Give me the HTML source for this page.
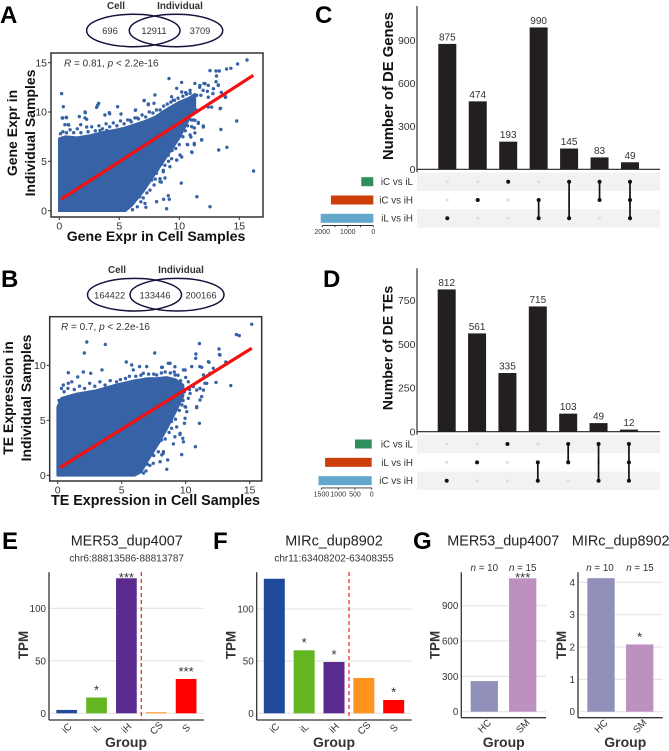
<!DOCTYPE html>
<html lang="en">
<head>
<meta charset="utf-8">
<title>Differential expression figure</title>
<style>
html,body{margin:0;padding:0;background:#fff;}
svg{display:block;font-family:"Liberation Sans",sans-serif;}
text{fill:#333;}
.letter{font-size:24px;font-weight:bold;fill:#000;}
.big{font-weight:bold;fill:#111;}
.title{font-size:14.4px;fill:#222;text-anchor:middle;}
.sub{font-size:10px;fill:#333;text-anchor:middle;}
.venn{fill:none;stroke:#14143c;stroke-width:1.5;}
.vn{font-size:9.3px;text-anchor:middle;fill:#333;}
.vh{font-size:9.8px;font-weight:bold;text-anchor:middle;fill:#333;}
</style>
</head>
<body>
<svg id="figure" width="669" height="751" viewBox="0 0 669 751" xmlns="http://www.w3.org/2000/svg">
<rect width="669" height="751" fill="#fff"/>

<text class="letter" x="0" y="23">A</text>
<text class="letter" x="315" y="23">C</text>
<text class="letter" x="1" y="287">B</text>
<text class="letter" x="323" y="287">D</text>
<text class="letter" x="2" y="549">E</text>
<text class="letter" x="213" y="549">F</text>
<text class="letter" x="413" y="549">G</text>

<g>
<ellipse class="venn" cx="133.3" cy="30.5" rx="46.7" ry="16.2"/>
<ellipse class="venn" cx="176" cy="30.5" rx="46.7" ry="16.2"/>
<text class="vh" x="116" y="9">Cell</text>
<text class="vh" x="180" y="9">Individual</text>
<text class="vn" x="110" y="34">696</text>
<text class="vn" x="154" y="34">12911</text>
<text class="vn" x="200" y="34">3709</text>
</g>

<g>
<ellipse class="venn" cx="134.5" cy="294.7" rx="47" ry="16.3"/>
<ellipse class="venn" cx="177" cy="294.7" rx="47" ry="16.3"/>
<text class="vh" x="117" y="273">Cell</text>
<text class="vh" x="181" y="273">Individual</text>
<text class="vn" x="109.7" y="298.3">164422</text>
<text class="vn" x="155" y="298.3">133446</text>
<text class="vn" x="201" y="298.3">200166</text>
</g>

<g id="panel-a"></g>
<text x="64" y="66.5" font-size="10"><tspan font-style="italic">R</tspan> = 0.81, <tspan font-style="italic">p</tspan> &lt; 2.2e-16</text>
<text class="big" x="156" y="241" font-size="14.1" text-anchor="middle">Gene Expr in Cell Samples</text>
<text class="big" transform="translate(17,133) rotate(-90)" font-size="14" text-anchor="middle">Gene Expr in</text>
<text class="big" transform="translate(35,133) rotate(-90)" font-size="14" text-anchor="middle">Individual Samples</text>

<g id="panel-b"></g>
<text x="61" y="330" font-size="10"><tspan font-style="italic">R</tspan> = 0.7, <tspan font-style="italic">p</tspan> &lt; 2.2e-16</text>
<text class="big" x="155.5" y="505" font-size="14.3" text-anchor="middle">TE Expression in Cell Samples</text>
<text class="big" transform="translate(13,398) rotate(-90)" font-size="14" text-anchor="middle">TE Expression in</text>
<text class="big" transform="translate(31,398) rotate(-90)" font-size="14" text-anchor="middle">Individual Samples</text>

<g id="panel-c"></g>
<text class="big" transform="translate(393,86) rotate(-90)" font-size="14.8" text-anchor="middle">Number of DE Genes</text>

<g id="panel-d"></g>
<text class="big" transform="translate(392.5,348) rotate(-90)" font-size="14.2" text-anchor="middle">Number of DE TEs</text>

<text class="title" x="126.7" y="545.7">MER53_dup4007</text>
<text class="sub" x="126.7" y="561.5">chr6:88813586-88813787</text>
<text class="title" x="334" y="545.7">MIRc_dup8902</text>
<text class="sub" x="334" y="561.5">chr11:63408202-63408355</text>
<text class="title" x="503.3" y="545.7">MER53_dup4007</text>
<text class="title" x="620.7" y="545.7">MIRc_dup8902</text>

<g id="panel-e"></g>
<g id="panel-f"></g>
<g id="panel-g1"></g>
<g id="panel-g2"></g>

<g font-size="9.8" text-anchor="middle" fill="#333">
<text x="484.3" y="571"><tspan font-style="italic">n</tspan> = 10</text>
<text x="522.7" y="571"><tspan font-style="italic">n</tspan> = 15</text>
<text x="600" y="571"><tspan font-style="italic">n</tspan> = 10</text>
<text x="640" y="571"><tspan font-style="italic">n</tspan> = 15</text>
</g>
</svg>

<script>
/* ---------- Panel A data ---------- */
const geneRegressionX = [0.14, 16.17];
const geneRegressionY = [1.15, 13.72];
const geneCloudX = [0, 0.5, 1.5, 2.5, 3.5, 4.8, 5.5, 6, 7, 8, 9, 10, 10.8, 11.3];
const geneCloudHigh = [7.3, 7.5, 7.4, 7.6, 7.9, 8.2, 8.4, 8.6, 9, 9.5, 10.3, 11, 11.4, 11.8];
const geneCloudLow = [0, 0, 0, 0, 0, 0, 0, 0.5, 2, 3.8, 5.6, 7.4, 9.3, 10.5];
const genePoints = [[.19,11.86],[.33,10.54],[.25,9.39],[.58,9.46],[.78,8.68],[1.67,9.53],[2.17,9.93],[2.28,9.26],[3.11,10.47],[3.28,10.88],[3.19,10.68],[4.86,10.54],[3.8,9.7],[4.17,9.93],[6.36,10.2],[7.06,11.15],[7.42,10.81],[7.97,11.72],[7.89,10.88],[9.14,13.38],[10.19,13],[9.36,11.55],[9.5,11.2],[9.78,12.4],[10.9,12.2],[11.3,12.9],[11.7,12.5],[12.05,12.9],[12.56,14.19],[13.06,14.15],[13.33,14.15],[13.1,13.65],[13.06,13.07],[13.25,12.74],[13.94,14.36],[14.3,14.43],[14.86,14.86],[15.64,15.27],[13.83,11.49],[13.44,10.37],[14.78,9.09],[13.47,8.24],[13.97,6.42],[13.28,6.15],[16.19,4.02],[12.56,.41],[11.47,1.42],[10.17,2.8],[8.94,.2],[9.08,1.52],[8.69,1.15],[9.17,1.15],[8.11,.91],[7.14,.74],[7.22,.34],[12,8.58],[11.58,8.85],[11.03,8.51],[11.17,9.19],[10.9,7.67],[10.67,6.72],[11.25,6.82],[11.86,7.16],[11.06,5.91],[10.06,5.64],[9.78,5.13],[9.22,4.46],[8.67,3.95],[8.39,2.94],[7.56,2.09],[6.72,1.42],[6.17,.91],[5.75,.41],[.28,9.39],[.61,9.42],[2.14,10],[2.14,9.4],[4.2,9.83],[5.14,9.8],[5.9,9.16],[6.33,10.17],[7.08,11.18],[7.42,10.74],[6.5,9.4],[.47,8.71],[.75,8.71],[1.78,8.71],[2.28,8.48],[3.39,8.14],[3.95,8.14],[11.72,12.7],[12.14,12.87],[12.42,12.7],[11.98,12.2],[12.34,12.1],[12.84,12.36],[13.25,12.7],[11.45,11.69],[11.8,11.69],[12.42,11.5],[12.8,11.86],[13.8,11.69],[13.86,11.5],[13.5,12],[12.42,10.5],[12.7,10.5],[13.4,10.34],[12,8.48],[11.3,9.16],[11.58,8.96],[11.25,8.38],[10.2,12.03],[10.53,11.97],[11.03,5.95],[10.7,6.69],[11.25,6.69],[11.87,7.19],[10.97,7.47],[11.3,7.88],[8.39,3.24],[8.81,3.31],[8.67,4.09],[8.39,5.27],[9.08,5.61],[9.36,5.27],[9.78,5.13],[10.2,5.44],[8.1,3.8],[8.5,2.9],[11.4,10.2],[.1,7.8],[.3,8],[.6,7.9],[.9,8.2],[1.2,7.9],[1.5,8.3],[1.8,7.9],[2.4,8],[2.7,8.5],[3,8.1],[3.3,8.6],[3.6,8.3],[3.9,8.8],[4.2,8.5],[4.5,8.9],[4.8,8.6],[5.1,9.1],[5.4,8.8],[5.7,9.2],[6,9],[6.3,9.4],[6.6,9.3],[6.9,9.7],[7.2,9.5],[7.5,10],[7.8,9.9],[8.1,10.2],[8.4,10.2],[8.7,10.6],[9,10.8],[9.3,11],[9.6,11.2],[9.9,11.4],[10.3,11.6],[10.6,11.8],[10.9,11.9],[6.4,1.9],[6.8,.9],[6.5,.4],[6.3,1.2],[6.1,.1],[7,1.3],[7.3,1.8],[7.4,2.9],[7.7,3.1],[7.9,2.6],[8,3.2],[8.2,4.2],[8.5,4.7],[8.8,4.6],[9.1,5],[9.4,6.1],[9.7,6.3],[10,6.7],[10.3,7.5],[10.5,8.1],[10.7,8.6],[11,9.2]];
const geneXTicks = [0, 5, 10, 15];
const geneYTicks = [0, 5, 10, 15];

/* ---------- Panel B data ---------- */
const teRegressionX = [0.18, 15.16];
const teRegressionY = [0.7, 11.55];
const teCloudX = [0, 0.3, 1.5, 3, 4.5, 6, 6.5, 7, 7.7, 8.5, 9.2, 9.8];
const teCloudHigh = [6.2, 7, 7.4, 7.7, 8.2, 8.6, 8.7, 8.8, 8.8, 8.9, 8.7, 8.2];
const teCloudLow = [0, 0, 0, 0, 0, 0, 0.3, 1.3, 2.6, 4.2, 5.8, 7.2];
const tePoints = [[15.16,13.73],[13.96,12.79],[14.19,12.7],[11.07,11.97],[2.27,12.12],[3.72,11.9],[2.08,11.12],[7.58,11.12],[12.6,11.48],[10.8,11.03],[10.78,10.64],[12.63,10.97],[5.36,10.3],[5.78,10.03],[6.4,9.88],[6.95,9.88],[8.18,9.82],[8.78,10.18],[.83,9.33],[1.56,8.94],[2,9.39],[2.58,9.27],[3.46,9.58],[11.82,10.27],[13.13,10.3],[13.52,8.15],[12.37,8.45],[11.07,4.73],[10.76,2.6],[9.69,1.88],[8.52,.55],[11.1,9.88],[11.25,9.82],[12.16,9.73],[11.64,8.36],[11.12,7.9],[11.25,7.15],[10.86,6.24],[9.95,6.24],[9.9,4.73],[9.56,3.82],[9.77,3.36],[9.04,2.85],[8.26,2.15],[8.13,1.85],[7.47,1.09],[6.69,.79],[5.9,.33],[10.2,8.5],[10.6,8.06],[10.34,7.45],[10.47,9.88],[9.82,9.58],[9.17,9.12],[11.38,9.12],[11.9,9.27],[7.73,9.12],[6.69,9.27],[5.91,9.58],[4.6,8.5],[3.3,8.5],[2.5,8.36],[.44,8.2],[.83,8.36],[1.1,8.5],[.3,7.9],[7.86,2.14],[8.25,2],[8.59,1.39],[8,1.24],[9.82,3.05],[9.16,3.5],[9.55,3.7],[8.9,4.27],[9.3,4.4],[9.95,5.18],[10.08,5.78],[10.86,6.15],[11.12,6.85],[11.38,7.75],[10.86,7.75],[11.5,8.36],[11.77,10.33],[12.68,10.94],[8.64,10.18],[9.16,9.87],[8.12,9.82],[9.95,9.57],[9.6,8.6],[10,8.9],[9.9,7.6],[9.5,7.4],[10.2,7],[9.8,6.8],[.1,6.8],[.5,7.6],[.8,7.9],[1.3,7.8],[1.7,8.1],[2.1,7.9],[2.9,8.1],[3.7,8.2],[4.1,8.6],[4.9,8.7],[5.3,8.8],[5.6,9],[6.1,9],[6.5,9.1],[7.1,9.2],[7.5,9.2],[8.1,9.3],[8.4,9.4],[8.8,9.3],[9.1,9.4],[9.4,9.1],[6.9,.4],[7.2,.9],[7.5,1.8],[7.9,3],[8.1,3.2],[8.4,3.3],[8.7,3.9],[8.9,4.9],[9.2,5.1],[9.5,5.9],[9.7,6.4],[10,6.2],[10.3,7.8],[6.7,.2],[7,1]];
const teXTicks = [0, 5, 10, 15];
const teYTicks = [0, 5, 10];

/* ---------- Panels C and D data ---------- */
const genesIntersectionCounts = [875, 474, 193, 990, 145, 83, 49];
const genesIntersectionSets = [[2], [1], [0], [1, 2], [0, 2], [0, 1], [0, 1, 2]];
const genesYTicks = [0, 300, 600, 900];
const genesSetNames = ["iC vs iL", "iC vs iH", "iL vs iH"];
const genesSetSizes = [470, 1658, 2059];
const genesSizeTicks = [2000, 1500, 1000, 500, 0];
const genesSizeLabels = ["2000", "", "1000", "", "0"];

const tesIntersectionCounts = [812, 561, 335, 715, 103, 49, 12];
const tesIntersectionSets = [[2], [1], [0], [1, 2], [0, 1], [0, 2], [0, 1, 2]];
const tesYTicks = [0, 250, 500, 750];
const tesSetNames = ["iC vs iL", "iL vs iH", "iC vs iH"];
const tesSetSizes = [499, 1391, 1588];
const tesSizeTicks = [1500, 1000, 500, 0];
const tesSizeLabels = ["1500", "1000", "500", "0"];

/* ---------- Panels E, F, G data ---------- */
const cellGroups = ["iC", "iL", "iH", "CS", "S"];
const merCellValues = [3.2, 15, 128.6, 1, 32.7];
const merCellStars = ["", "*", "***", "", "***"];
const mircCellValues = [129, 60.4, 49.2, 33.9, 12.8];
const mircCellStars = ["", "*", "*", "", "*"];
const cellYTicks = [0, 50, 100];

const cohortGroups = ["HC", "SM"];
const merCohortValues = [260, 1132];
const merCohortStars = ["", "***"];
const merCohortTicks = [0, 300, 600, 900];
const mircCohortValues = [4.13, 2.08];
const mircCohortStars = ["", "*"];
const mircCohortTicks = [0, 1, 2, 3, 4];

/* ---------- helpers ---------- */
const NS = "http://www.w3.org/2000/svg";
function make(parent, tag, attrs, content) {
  const el = document.createElementNS(NS, tag);
  for (const key in attrs) el.setAttribute(key, attrs[key]);
  if (content !== undefined) el.textContent = content;
  parent.appendChild(el);
  return el;
}

const DOT = "#3762a6";

function drawScatter(host, o) {
  const x = o.xScale;
  const y = o.yScale;
  const frame = make(host, "rect", {x: o.left, y: o.top, width: o.right - o.left, height: o.bottom - o.top, fill: "#fff", stroke: "#333", "stroke-width": 1.5});
  
  

  let d = "";
  o.cloudX.forEach((v, i) => { d += (i ? "L" : "M") + x(v).toFixed(1) + " " + y(o.cloudHigh[i]).toFixed(1); });
  for (let i = o.cloudX.length - 1; i >= 0; i--) { d += "L" + x(o.cloudX[i]).toFixed(1) + " " + y(o.cloudLow[i]).toFixed(1); }
  const cloud = make(host, "path", {d: d + "Z", fill: DOT, stroke: DOT, "stroke-width": 2.6, "stroke-linejoin": "round"});
  
  

  o.points.forEach(p => {
    const c = make(host, "circle", {cx: x(p[0]).toFixed(1), cy: y(p[1]).toFixed(1), r: 1.7, fill: DOT});
    
    
  });

  const line = make(host, "line", {x1: x(o.lineX[0]), y1: y(o.lineY[0]), x2: x(o.lineX[1]), y2: y(o.lineY[1]), stroke: "#f40f10", "stroke-width": 3.2});
  
  

  o.xTicks.forEach(t => {
    const m = make(host, "line", {x1: x(t), x2: x(t), y1: o.bottom, y2: o.bottom + 3, stroke: "#333", "stroke-width": 1});
    
    
    const l = make(host, "text", {x: x(t), y: o.bottom + 12.7, "font-size": 10.5, "text-anchor": "middle"}, String(t));
    
    
  });
  o.yTicks.forEach(t => {
    const m = make(host, "line", {x1: o.left - 3, x2: o.left, y1: y(t), y2: y(t), stroke: "#333", "stroke-width": 1});
    
    
    const l = make(host, "text", {x: o.left - 4, y: y(t) + 3.7, "font-size": 10.5, "text-anchor": "end"}, String(t));
    
    
  });
}

const SET_COLORS = ["#2f8f5b", "#cc3f08", "#62a8cc"];

function drawUpset(host, o) {
  const y = o.yScale;
  const colX = i => o.firstColumn + i * o.columnStep;
  const rowY = r => o.firstRow + r * o.rowStep;
  const setX = v => o.setRight - v * o.setScale;

  [0, 2].forEach(r => {
    const band = make(host, "rect", {x: 417, y: rowY(r) - 9.1, width: 243, height: 18.3, fill: "#f3f2f0"});
    
    
  });

  o.counts.forEach((v, i) => {
    const bar = make(host, "rect", {x: colX(i) - 9, y: y(v), width: 18, height: o.base - y(v), fill: "#231f20"});
    
    
    const l = make(host, "text", {x: colX(i), y: y(v) - 3.5, "font-size": 10, "text-anchor": "middle"}, String(v));
    
    
  });

  const yAxis = make(host, "line", {x1: 417, x2: 417, y1: o.axisTop, y2: o.base + 3, stroke: "#333", "stroke-width": 1.2});
  
  
  const xAxis = make(host, "line", {x1: 417, x2: 660, y1: o.base, y2: o.base, stroke: "#222", "stroke-width": 1.2});
  
  

  o.yTicks.forEach(t => {
    const l = make(host, "text", {x: 415.5, y: y(t) + 3.7, "font-size": 10.5, "text-anchor": "end"}, String(t));
    
    
  });

  o.sets.forEach((members, i) => {
    [0, 1, 2].forEach(r => {
      const on = members.indexOf(r) >= 0;
      const dot = make(host, "circle", {cx: colX(i), cy: rowY(r), r: on ? 2 : 1.5, fill: on ? "#111" : "#dcdcdc"});
      
      
    });
    if (members.length > 1) {
      const seg = make(host, "line", {x1: colX(i), x2: colX(i), y1: rowY(Math.min(...members)), y2: rowY(Math.max(...members)), stroke: "#111", "stroke-width": 1.7});
      
      
    }
  });

  o.setNames.forEach((name, r) => {
    const l = make(host, "text", {x: 413, y: rowY(r) + 3.4, "font-size": 9.8, "text-anchor": "end"}, name);
    
    
    const b = make(host, "rect", {x: setX(o.setSizes[r]), y: rowY(r) - 4.5, width: o.setRight - setX(o.setSizes[r]), height: 9, fill: SET_COLORS[r]});
    
    
  });

  const sizeAxisY = rowY(2) + 7.2;
  const sa = make(host, "line", {x1: setX(o.sizeTicks[0]), x2: setX(0), y1: sizeAxisY, y2: sizeAxisY, stroke: "#333", "stroke-width": 0.9});
  
  
  o.sizeTicks.forEach((t, i) => {
    const m = make(host, "line", {x1: setX(t), x2: setX(t), y1: sizeAxisY, y2: sizeAxisY + 1.8, stroke: "#333", "stroke-width": 0.9});
    
    
    if (o.sizeLabels[i]) {
      const l = make(host, "text", {x: setX(t), y: sizeAxisY + 8.6, "font-size": 7, "text-anchor": "middle"}, o.sizeLabels[i]);
      
      
    }
  });
}

const CELL_COLORS = ["#1f4a99", "#63b521", "#5a2a8c", "#ff9320", "#ff0000"];
const COHORT_COLORS = ["#9090ba", "#bd90bf"];

function drawBars(host, o) {
  const y = o.yScale;
  const colX = i => o.firstColumn + i * o.columnStep;

  o.yTicks.forEach(t => {
    const g = make(host, "line", {x1: o.axisX, x2: o.axisRight, y1: y(t), y2: y(t), stroke: "#e6e6e6", "stroke-width": 1.2});
    
    
    const l = make(host, "text", {x: o.axisX - 3, y: y(t) + 3.5, "font-size": 9.8, "text-anchor": "end"}, String(t));
    
    
  });

  o.values.forEach((v, i) => {
    const bar = make(host, "rect", {x: colX(i) - o.barWidth / 2, y: y(v), width: o.barWidth, height: y(0) - y(v), fill: o.colors[i]});
    
    
    if (o.stars[i]) {
      const starY = Math.max(574, y(v) - 11);
      const s = make(host, "text", {x: colX(i), y: starY + 7.8, "font-size": 13, "text-anchor": "middle", fill: "#222"}, o.stars[i]);
      
      
    }
    const l = make(host, "text", {transform: "translate(" + colX(i) + "," + o.labelY + ") rotate(-45)", "font-size": 9.8, "text-anchor": "middle", dy: "0.35em"}, o.groups[i]);
    
    
  });

  const yAxis = make(host, "line", {x1: o.axisX, x2: o.axisX, y1: 572.3, y2: o.axisBottom, stroke: "#333", "stroke-width": 1.3});
  
  
  const xAxis = make(host, "line", {x1: o.axisX, x2: o.axisRight, y1: o.axisBottom, y2: o.axisBottom, stroke: "#333", "stroke-width": 1.3});
  
  

  if (o.dashX) {
    const dash = make(host, "line", {x1: o.dashX, x2: o.dashX, y1: 572, y2: 720, stroke: "#f01c24", "stroke-width": 1.2, "stroke-dasharray": "4 3"});
    
    
  }

  const gt = make(host, "text", {x: o.groupX, y: 747, "font-size": 14, "font-weight": "bold", "text-anchor": "middle", fill: "#111"}, "Group");
  
  
  const tt = make(host, "text", {transform: "translate(" + o.tpmX + ",645) rotate(-90)", "font-size": 13.4, "font-weight": "bold", "text-anchor": "middle", fill: "#111"}, "TPM");
  
  
}

/* ---------- render ---------- */
drawScatter(document.getElementById("panel-a"), {
  xScale: v => 59.3 + 12 * v, yScale: v => 210.7 - 9.87 * v,
  left: 51, right: 263, top: 53, bottom: 217,
  cloudX: geneCloudX, cloudHigh: geneCloudHigh, cloudLow: geneCloudLow,
  points: genePoints, lineX: geneRegressionX, lineY: geneRegressionY,
  xTicks: geneXTicks, yTicks: geneYTicks
});
drawScatter(document.getElementById("panel-b"), {
  xScale: v => 57.7 + 12.8 * v, yScale: v => 475.3 - 11 * v,
  left: 49.7, right: 261.7, top: 316.7, bottom: 481,
  cloudX: teCloudX, cloudHigh: teCloudHigh, cloudLow: teCloudLow,
  points: tePoints, lineX: teRegressionX, lineY: teRegressionY,
  xTicks: teXTicks, yTicks: teYTicks
});
drawUpset(document.getElementById("panel-c"), {
  yScale: v => 169.3 - 0.1433 * v, base: 169.3, axisTop: 6,
  firstColumn: 447.3, columnStep: 30.45, firstRow: 181.7, rowStep: 18.3,
  counts: genesIntersectionCounts, sets: genesIntersectionSets, yTicks: genesYTicks,
  setNames: genesSetNames, setSizes: genesSetSizes, setRight: 373.3, setScale: 0.02555,
  sizeTicks: genesSizeTicks, sizeLabels: genesSizeLabels
});
drawUpset(document.getElementById("panel-d"), {
  yScale: v => 431.7 - 0.1752 * v, base: 431.7, axisTop: 268.3,
  firstColumn: 446.7, columnStep: 30.37, firstRow: 444, rowStep: 18.35,
  counts: tesIntersectionCounts, sets: tesIntersectionSets, yTicks: tesYTicks,
  setNames: tesSetNames, setSizes: tesSetSizes, setRight: 371.7, setScale: 0.0335,
  sizeTicks: tesSizeTicks, sizeLabels: tesSizeLabels
});
drawBars(document.getElementById("panel-e"), {
  yScale: v => 713.3 - 1.05 * v, values: merCellValues, stars: merCellStars, groups: cellGroups,
  yTicks: cellYTicks, colors: CELL_COLORS, firstColumn: 66.7, columnStep: 29.85, barWidth: 20.7,
  axisX: 49, axisRight: 204, axisBottom: 720, labelY: 728, dashX: 141.3, groupX: 126, tpmX: 28
});
drawBars(document.getElementById("panel-f"), {
  yScale: v => 713.3 - 1.043 * v, values: mircCellValues, stars: mircCellStars, groups: cellGroups,
  yTicks: cellYTicks, colors: CELL_COLORS, firstColumn: 274.3, columnStep: 29.85, barWidth: 21,
  axisX: 256.7, axisRight: 411.7, axisBottom: 720, labelY: 728, dashX: 349, groupX: 334, tpmX: 235.5
});
drawBars(document.getElementById("panel-g1"), {
  yScale: v => 711.7 - 0.1178 * v, values: merCohortValues, stars: merCohortStars, groups: cohortGroups,
  yTicks: merCohortTicks, colors: COHORT_COLORS, firstColumn: 484.3, columnStep: 38.4, barWidth: 27.3,
  axisX: 461.3, axisRight: 546, axisBottom: 717.7, labelY: 726, groupX: 503.7, tpmX: 439.5
});
drawBars(document.getElementById("panel-g2"), {
  yScale: v => 711.7 - 32.33 * v, values: mircCohortValues, stars: mircCohortStars, groups: cohortGroups,
  yTicks: mircCohortTicks, colors: COHORT_COLORS, firstColumn: 601, columnStep: 38.7, barWidth: 27.3,
  axisX: 578, axisRight: 662.7, axisBottom: 717.7, labelY: 726, groupX: 625.3, tpmX: 566
});
</script>
</body>
</html>
